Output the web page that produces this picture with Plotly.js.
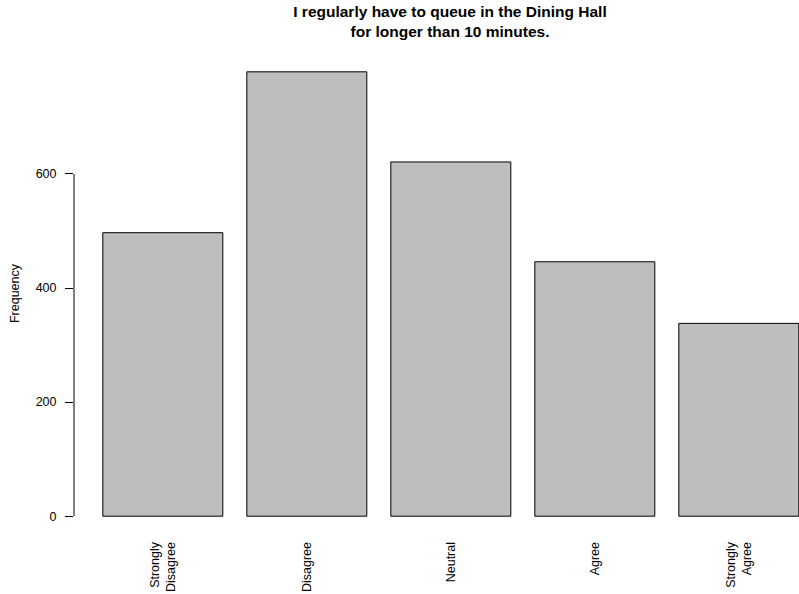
<!DOCTYPE html>
<html>
<head>
<meta charset="utf-8">
<script src="https://cdn.plot.ly/plotly-3.0.1.min.js"></script>
<style>html,body{margin:0;padding:0;background:#fff;}#chart{width:799px;height:594px;}</style>
</head>
<body>
<div id="chart"></div>
<script>
const categories = ["Strongly Disagree", "Disagree", "Neutral", "Agree", "Strongly Agree"];
const tickLabels = ["Strongly<br>Disagree", "Disagree", "Neutral", "Agree", "Strongly<br>Agree"];
const frequency = [497, 779, 621, 446, 338];
const yTicks = [0, 200, 400, 600];
const titleText = "I regularly have to queue in the Dining Hall<br>for longer than 10 minutes.";

const font = "Liberation Sans, Arial, Helvetica, sans-serif";

const trace = {
  type: "bar",
  x: categories,
  y: frequency,
  marker: {color: "#BEBEBE", line: {color: "#000000", width: 1}},
  hoverinfo: "x+y"
};

const layout = {
  width: 799,
  height: 594,
  autosize: false,
  margin: {l: 74, r: 0, t: 53, b: 60, pad: 0},
  paper_bgcolor: "#ffffff",
  plot_bgcolor: "#ffffff",
  font: {family: font, color: "#000000", size: 12},
  bargap: 1/6,
  showlegend: false,
  title: {
    text: titleText,
    font: {family: font, size: 15.5, weight: "bold", color: "#000000"},
    xref: "paper", x: 0.5186, xanchor: "center",
    yref: "container", y: 0.972, yanchor: "top"
  },
  xaxis: {
    type: "category",
    range: [-0.6167, 4.418],
    tickvals: categories,
    ticktext: tickLabels,
    tickangle: -90,
    ticks: "outside",
    ticklen: 2,
    tickcolor: "rgba(0,0,0,0)",
    tickfont: {family: font, size: 12.5, color: "#000000"},
    showline: false,
    showgrid: false,
    zeroline: false,
    automargin: false,
    fixedrange: true
  },
  yaxis: {
    range: [-31.2, 812],
    tickvals: yTicks,
    ticktext: yTicks.map(String),
    ticks: "outside",
    ticklen: 8,
    tickwidth: 1,
    tickcolor: "#000000",
    ticklabelstandoff: 6,
    tickfont: {family: font, size: 12.5, color: "#000000"},
    showline: false,
    showgrid: false,
    zeroline: false,
    automargin: false,
    fixedrange: true,
    title: {text: "Frequency", font: {family: font, size: 12.5, color: "#000000"}, standoff: 13}
  },
  shapes: [{
    type: "line", xref: "paper", yref: "y",
    x0: 0, x1: 0, y0: yTicks[0], y1: yTicks[yTicks.length - 1],
    line: {color: "#000000", width: 1}
  }]
};

Plotly.newPlot("chart", [trace], layout, {displayModeBar: false, staticPlot: true});
</script>
</body>
</html>
